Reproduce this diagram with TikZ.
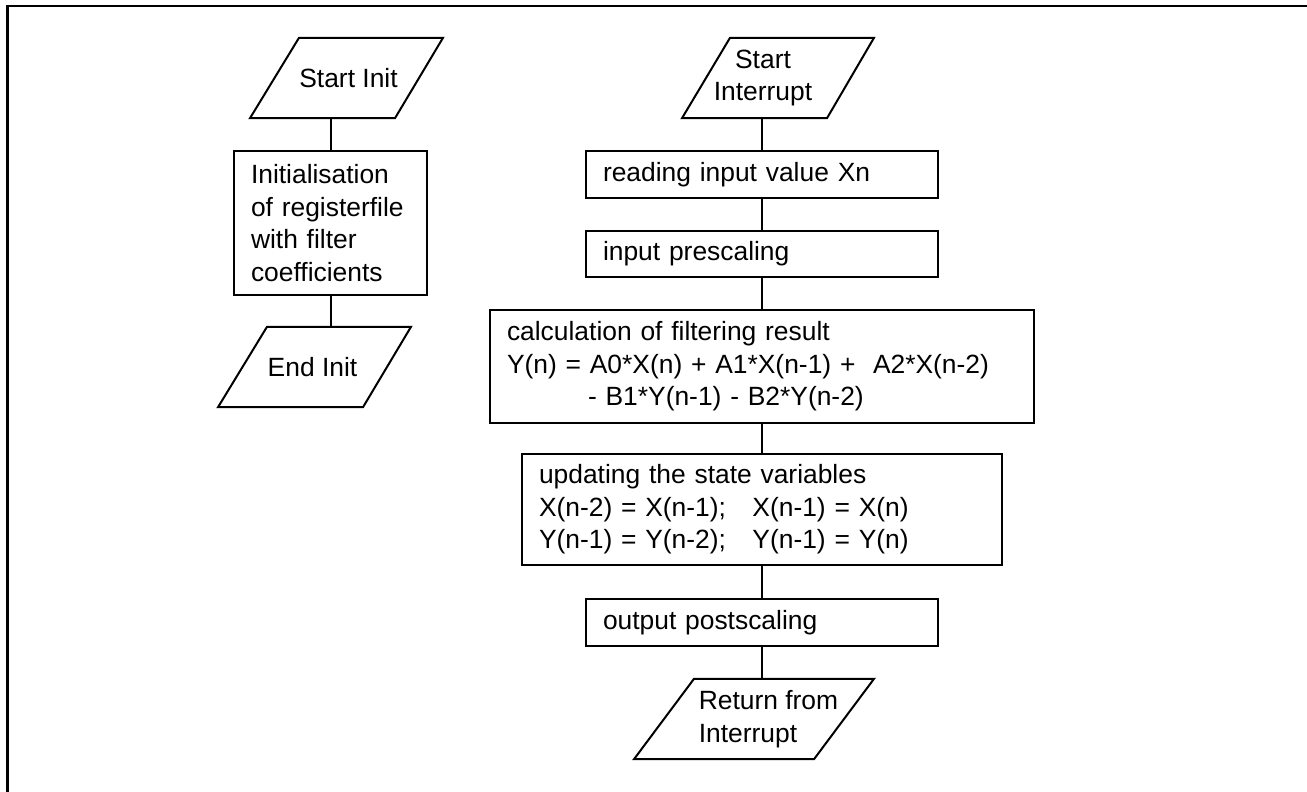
\documentclass[tikz,border=0pt]{standalone}
\usepackage{fontspec}
\setmainfont{Liberation Sans}
\begin{document}
\begin{tikzpicture}[x=1pt,y=-1pt]
\tikzset{
  boxline/.style={line width=2pt},
  txt/.style={font=\fontsize{26.4}{32.5}\selectfont},
  procbox/.style={draw, boxline, txt, align=left, inner xsep=17pt, inner ysep=0pt},
  iotext/.style={txt, inner sep=0pt, minimum height=80pt, align=center},
  conn/.style={boxline},
  frame/.style={line width=2.4pt}
}
\useasboundingbox (0,0) rectangle (1307,792);
\draw[frame] (7.5,800) -- (7.5,6) -- (1315,6);

% left flow
\node[iotext] (si) at (348.5,78) {Start Init};
\draw[boxline] ([xshift=-49.5pt]si.north) -- ([xshift=94.5pt]si.north) -- ([xshift=46.5pt]si.south) -- ([xshift=-98.5pt]si.south) -- cycle;

\node[procbox, text width=159pt, minimum height=144pt] (ib) at (330.5,223) {Initialisation\\of registerfile\\with filter\\coefficients};

\node[iotext] (ei) at (312.5,367) {End Init};
\draw[boxline] ([xshift=-45.5pt]ei.north) -- ([xshift=98.5pt]ei.north) -- ([xshift=50.5pt]ei.south) -- ([xshift=-94.5pt]ei.south) -- cycle;

% right flow
\node[iotext] (sint) at (763,78) {Start\\Interrupt};
\draw[boxline] ([xshift=-33pt]sint.north) -- ([xshift=111pt]sint.north) -- ([xshift=64pt]sint.south) -- ([xshift=-81pt]sint.south) -- cycle;

\node[procbox, text width=318pt, minimum height=47pt] (rd) at (762,174.5) {reading input value Xn};
\node[procbox, text width=318pt, minimum height=46pt] (ps) at (762,254) {input prescaling};
\node[procbox, text width=510pt, minimum height=113pt] (cf) at (762,366.5) {calculation of filtering result\\Y(n) = A0*X(n) + A1*X(n-1) +\ \ A2*X(n-2)\\\hspace*{81pt}- B1*Y(n-1) - B2*Y(n-2)};
\node[procbox, text width=446pt, minimum height=111pt] (upd) at (762,509.5) {updating the state variables\\X(n-2) = X(n-1);\ \ \ X(n-1) = X(n)\\Y(n-1) = Y(n-2);\ \ \ Y(n-1) = Y(n)};
\node[procbox, text width=318pt, minimum height=47pt] (out) at (762,622.5) {output postscaling};

\node[iotext, align=left] (ret) at (768.5,719) {Return from\\Interrupt};
\draw[boxline] ([xshift=-74.5pt]ret.north) -- ([xshift=105.5pt]ret.north) -- ([xshift=45.5pt]ret.south) -- ([xshift=-134.5pt]ret.south) -- cycle;

% connectors
\draw[conn] (ib.north |- si.south) -- (ib.north);
\draw[conn] (ib.south) -- (ib.south |- ei.north);
\draw[conn] (rd.north |- sint.south) -- (rd.north);
\draw[conn] (rd.south) -- (ps.north);
\draw[conn] (ps.south) -- (cf.north);
\draw[conn] (cf.south) -- (upd.north);
\draw[conn] (upd.south) -- (out.north);
\draw[conn] (out.south) -- (out.south |- ret.north);
\end{tikzpicture}
\end{document}
